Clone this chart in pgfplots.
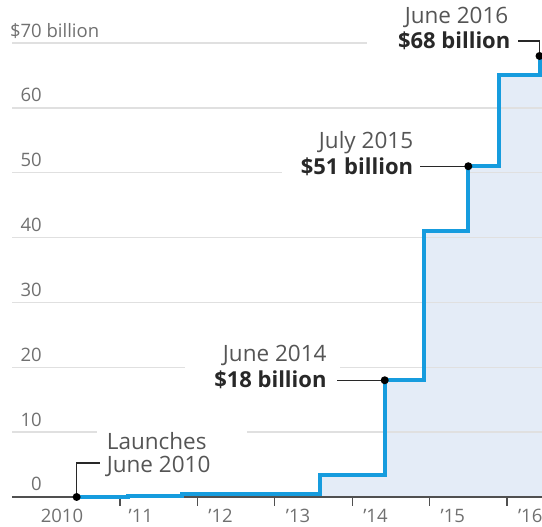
\documentclass[border=0pt]{standalone}
\usepackage{fontspec}
\setmainfont{Open Sans}
\usepackage{pgfplots}
\pgfplotsset{compat=1.18}

\definecolor{wsjblue}{RGB}{22,156,222}
\definecolor{fillblue}{RGB}{228,236,247}
\definecolor{gridgray}{RGB}{224,224,224}
\definecolor{axisgray}{RGB}{80,80,80}
\definecolor{ticktext}{RGB}{112,112,112}
\definecolor{annotext}{RGB}{85,85,85}
\definecolor{annobold}{RGB}{40,40,40}

% cumulative value, stepwise; x = years after 1 Jan 2010
\pgfplotstableread{
x      y
0.44   0
1.10   0.15
1.80   0.4
3.58   3.4
4.42   18
4.93   41
5.50   51
5.90   65
6.42   68
6.452  68
}\valuedata

\newcommand{\annofont}{\fontsize{22.5}{26}\selectfont}
\newcommand{\annofontb}{\fontsize{22}{26}\selectfont\bfseries}
\newcommand{\tickfont}{\fontsize{18.5}{22}\selectfont}

\begin{document}
\begin{tikzpicture}
\begin{axis}[
	at={(0,0)}, anchor=south west,
	set layers, clip=false,
	scale only axis, width=530pt, height=454pt,
	xmin=-0.395, xmax=6.452,
	ymin=0, ymax=70,
	axis x line*=bottom, axis y line*=left,
	y axis line style={draw=none},
	x axis line style={draw=axisgray, line width=1.3pt},
	ytick={0,10,...,70},
	yticklabels={0,10,20,30,40,50,60,\$70\rlap{ billion}},
	ytick style={draw=none},
	yticklabel style={anchor=base east, inner sep=0pt, xshift=39pt, yshift=6pt,
		font=\tickfont, text=ticktext},
	ymajorgrids,
	grid style={draw=gridgray, line width=1.3pt},
	xtick={1,...,6}, xticklabels={},
	tick align=outside, major tick length=9pt,
	xtick style={draw=axisgray, line width=1.3pt},
	extra x ticks={0.25,1.27,2.3,3.3,4.3,5.3,6.3},
	extra x tick labels={2010,'11,'12,'13,'14,'15,'16},
	extra x tick style={major tick length=0pt, grid=none,
		xticklabel style={anchor=base, inner sep=0pt, yshift=-26pt,
		font=\tickfont, text=ticktext}},
]
\addplot[const plot, draw=none, fill=fillblue, on layer=axis background]
	table[x=x,y=y] {\valuedata} \closedcycle;

% white boxes behind the annotations
\fill[white] (axis cs:0.70,9.2) rectangle (axis cs:2.64,10.8);
\fill[white] (axis cs:1.84,19.2) rectangle (axis cs:3.84,20.8);
\fill[white] (axis cs:3.09,49.2) rectangle (axis cs:5.48,50.8);
\fill[white] (axis cs:4.19,69.2) rectangle (axis cs:6.46,70.8);

\addplot[const plot, draw=wsjblue, line width=4pt, line join=miter, mark=none]
	table[x=x,y=y] {\valuedata};

% Launch
\draw[annobold, line width=1.3pt] (axis cs:0.44,0) -- ++(0pt,34pt) -- ++(23pt,0pt);
\fill[black] (axis cs:0.44,0) circle[radius=4pt];
\node[anchor=base west, inner sep=0pt, font=\annofont, text=annotext]
	at ([xshift=30pt,yshift=47.5pt]axis cs:0.44,0) {Launches};
\node[anchor=base west, inner sep=0pt, font=\annofont, text=annotext]
	at ([xshift=30pt,yshift=24pt]axis cs:0.44,0) {June 2010};

% June 2014
\draw[annobold, line width=1.3pt] (axis cs:4.42,18) -- ++(-48pt,0pt);
\fill[black] (axis cs:4.42,18) circle[radius=4pt];
\node[anchor=base east, inner sep=0pt, font=\annofont, text=annotext]
	at ([xshift=-58pt,yshift=19pt]axis cs:4.42,18) {June 2014};
\node[anchor=base east, inner sep=0pt, font=\annofontb, text=annobold]
	at ([xshift=-58pt,yshift=-7.5pt]axis cs:4.42,18) {\$18 billion};

% July 2015
\draw[annobold, line width=1.3pt] (axis cs:5.5,51) -- ++(-48pt,0pt);
\fill[black] (axis cs:5.5,51) circle[radius=4pt];
\node[anchor=base east, inner sep=0pt, font=\annofont, text=annotext]
	at ([xshift=-55pt,yshift=18pt]axis cs:5.5,51) {July 2015};
\node[anchor=base east, inner sep=0pt, font=\annofontb, text=annobold]
	at ([xshift=-55pt,yshift=-8pt]axis cs:5.5,51) {\$51 billion};

% June 2016
\draw[annobold, line width=1.3pt] (axis cs:6.42,68) -- ++(0pt,15pt) -- ++(-22pt,0pt);
\fill[black] (axis cs:6.42,68) circle[radius=4pt];
\node[anchor=base east, inner sep=0pt, font=\annofont, text=annotext]
	at ([xshift=-31pt,yshift=32pt]axis cs:6.42,68) {June 2016};
\node[anchor=base east, inner sep=0pt, font=\annofontb, text=annobold]
	at ([xshift=-29pt,yshift=7pt]axis cs:6.42,68) {\$68 billion};
\end{axis}
\pgfresetboundingbox
\path[use as bounding box] (-12pt,-30pt) rectangle (530pt,497pt);
\end{tikzpicture}
\end{document}
